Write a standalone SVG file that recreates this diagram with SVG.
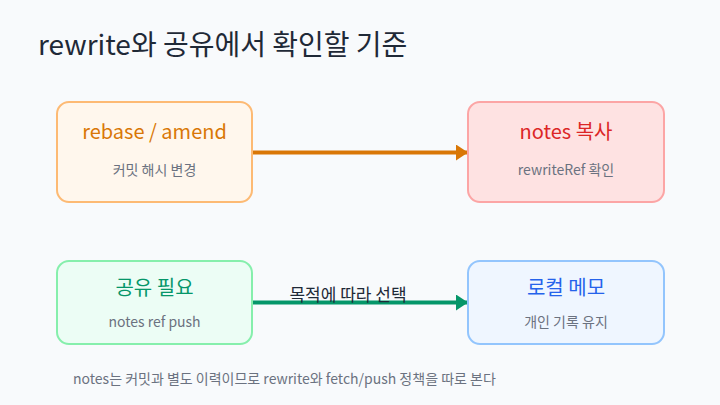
<svg xmlns="http://www.w3.org/2000/svg" width="720" height="405" viewBox="0 0 720 405">
<style>
text{font-family:"Noto Sans CJK KR","Noto Sans",sans-serif}
.t{font-size:20px;text-anchor:middle}
.s{font-size:14px;fill:#6b7280;text-anchor:middle}
.box{stroke-width:2}
</style>
<defs>
<marker id="ao" viewBox="0 0 12 16" refX="12" refY="8" markerWidth="12" markerHeight="16" markerUnits="userSpaceOnUse" orient="auto"><path d="M0 0L12 8L0 16Z" fill="#d97706"/></marker>
<marker id="ag" viewBox="0 0 12 16" refX="12" refY="8" markerWidth="12" markerHeight="16" markerUnits="userSpaceOnUse" orient="auto"><path d="M0 0L12 8L0 16Z" fill="#059669"/></marker>
</defs>
<rect width="720" height="405" fill="#f8fafc"/>
<text x="38" y="55" font-size="28" fill="#1f2937">rewrite와 공유에서 확인할 기준</text>
<g id="connectors">
<line x1="252" y1="152.5" x2="468" y2="152.5" stroke="#d97706" stroke-width="4" marker-end="url(#ao)"/>
<line x1="252" y1="302.5" x2="468" y2="302.5" stroke="#059669" stroke-width="4" marker-end="url(#ag)"/>
<text x="348" y="301" font-size="17" fill="#1f2937" text-anchor="middle">목적에 따라 선택</text>
</g>
<g id="rebase">
<rect class="box" x="57" y="102" width="195" height="100" rx="12" fill="#fff7ed" stroke="#fdba74"/>
<text class="t" x="154.5" y="139" fill="#d97706">rebase / amend</text>
<text class="s" x="154.5" y="175">커밋 해시 변경</text>
</g>
<g id="notescopy">
<rect class="box" x="468" y="102" width="196" height="100" rx="12" fill="#fee2e2" stroke="#fca5a5"/>
<text class="t" x="566" y="139" fill="#dc2626">notes 복사</text>
<text class="s" x="566" y="175">rewriteRef 확인</text>
</g>
<g id="share">
<rect class="box" x="57" y="261" width="195" height="83" rx="12" fill="#ecfdf5" stroke="#86efac"/>
<text class="t" x="154.5" y="295" fill="#059669">공유 필요</text>
<text class="s" x="154.5" y="327">notes ref push</text>
</g>
<g id="local">
<rect class="box" x="468" y="261" width="196" height="83" rx="12" fill="#eff6ff" stroke="#93c5fd"/>
<text class="t" x="566" y="295" fill="#2563eb">로컬 메모</text>
<text class="s" x="566" y="327">개인 기록 유지</text>
</g>
<text x="73" y="384" font-size="14" fill="#6b7280">notes는 커밋과 별도 이력이므로 rewrite와 fetch/push 정책을 따로 본다</text>
</svg>
